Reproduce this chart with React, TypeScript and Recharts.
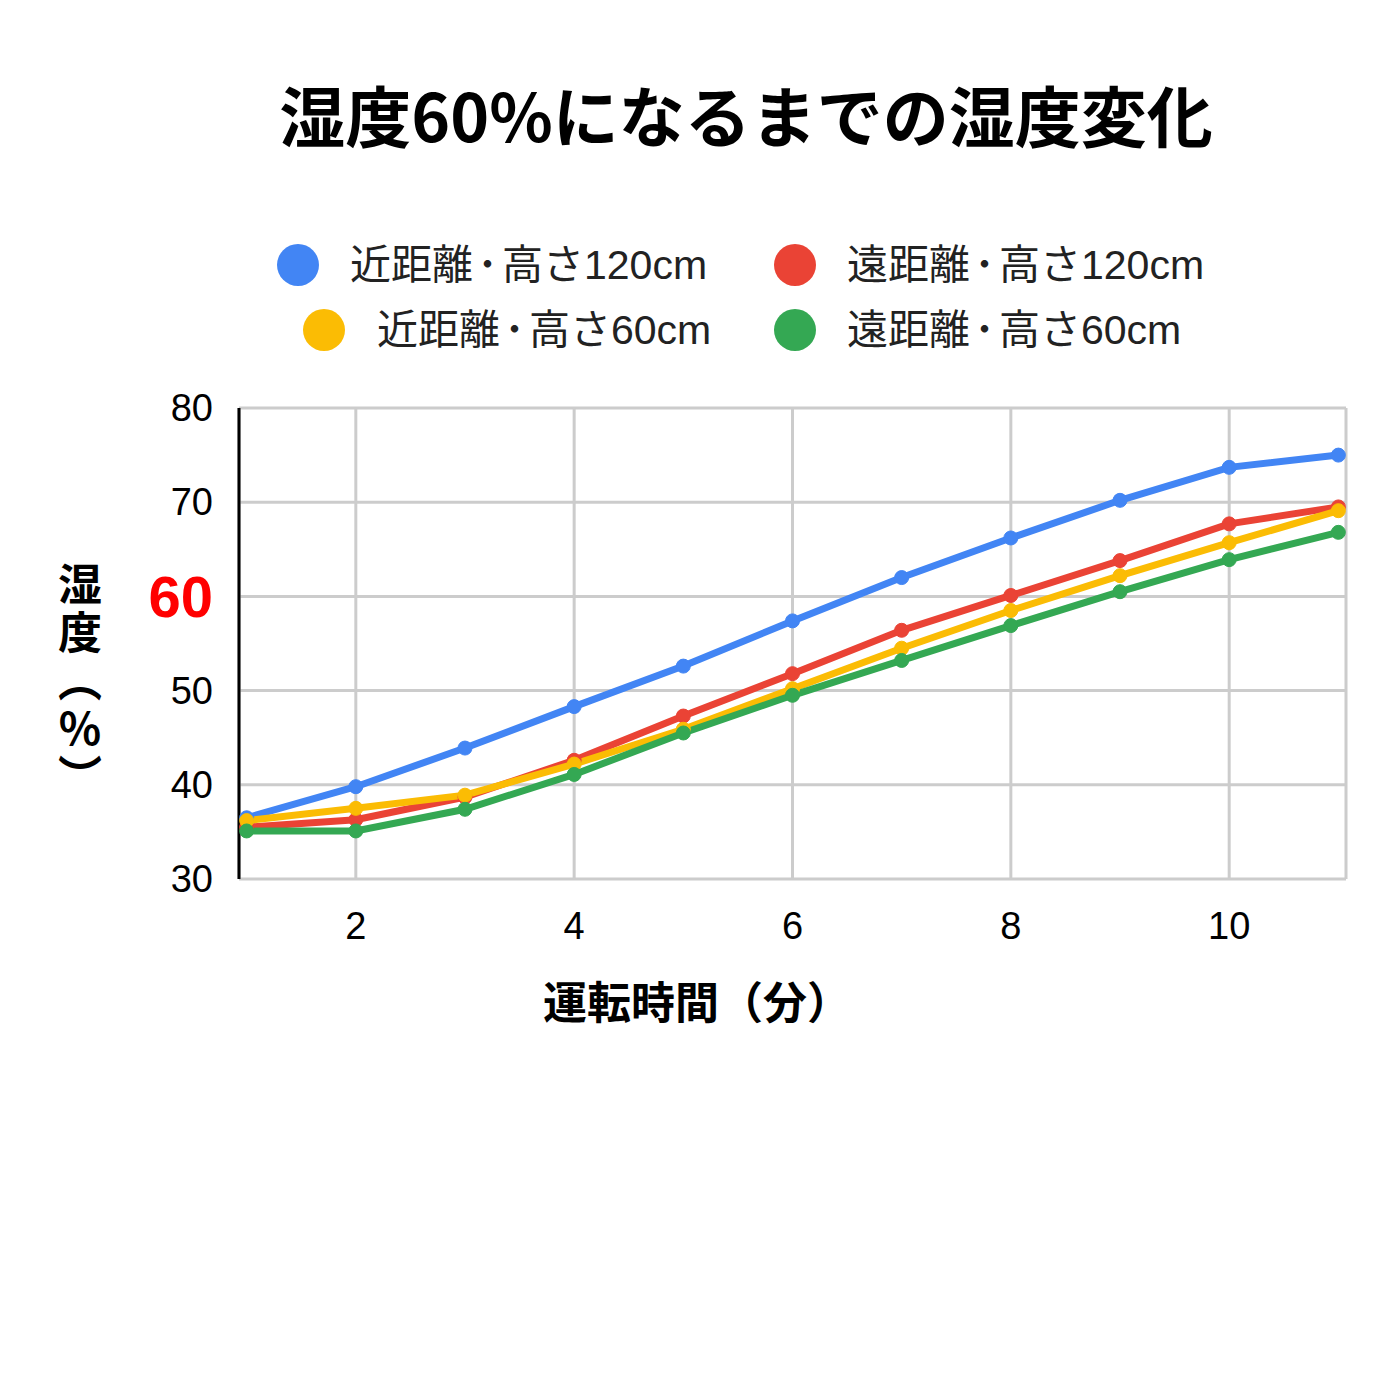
import React from "react";
import { LineChart, Line, XAxis, YAxis, CartesianGrid } from "recharts";

const minutes = [1, 2, 3, 4, 5, 6, 7, 8, 9, 10, 11];
const nearHigh = [36.5, 39.8, 43.9, 48.3, 52.6, 57.4, 62.0, 66.2, 70.2, 73.7, 75.0];
const farHigh = [35.5, 36.3, 38.7, 42.6, 47.3, 51.8, 56.4, 60.1, 63.8, 67.7, 69.5];
const nearLow = [36.2, 37.5, 38.9, 42.2, 45.9, 50.2, 54.5, 58.5, 62.2, 65.7, 69.1];
const farLow = [35.1, 35.1, 37.4, 41.1, 45.5, 49.5, 53.2, 56.9, 60.5, 63.9, 66.8];

const xTicks = [2, 4, 6, 8, 10];
const yTicks = [30, 40, 50, 60, 70, 80];

const seriesList = [
  { key: "nearHigh", name: "近距離・高さ120cm", color: "#4285F4", values: nearHigh },
  { key: "farHigh", name: "遠距離・高さ120cm", color: "#EA4335", values: farHigh },
  { key: "nearLow", name: "近距離・高さ60cm", color: "#FBBC04", values: nearLow },
  { key: "farLow", name: "遠距離・高さ60cm", color: "#34A853", values: farLow },
];

const data = minutes.map((m, i) => {
  const row: Record<string, number> = { minute: m };
  seriesList.forEach((s) => {
    row[s.key] = s.values[i];
  });
  return row;
});

const latin = "'Liberation Sans', Arial, 'Noto Sans CJK JP', sans-serif";
const cjk = "'Noto Sans CJK JP', sans-serif";

const YTick = (props: any) => {
  const { x, y, payload } = props;
  const hot = payload.value === 60;
  return (
    <text
      x={x}
      y={y}
      textAnchor="end"
      dominantBaseline="central"
      fontFamily={latin}
      fontSize={hot ? 58 : 38}
      fontWeight={hot ? "bold" : "normal"}
      fill={hot ? "#ff0000" : "#000"}
    >
      {payload.value}
    </text>
  );
};

const XTick = (props: any) => {
  const { x, y, payload } = props;
  return (
    <text x={x} y={y} dy="0.71em" textAnchor="middle" fontFamily={latin} fontSize={38} fill="#000">
      {payload.value}
    </text>
  );
};

// the middle dot is set tight, as in the original legend
const LegendName = ({ name }: { name: string }) => {
  const parts = name.split("・");
  return (
    <>
      {parts[0]}
      <span style={{ fontSize: 29, fontWeight: 700, position: "relative", top: -4 }}>・</span>
      {parts[1]}
    </>
  );
};

// legend positions: [circle x, text x, row y]
const legendSpots = [
  [298, 350, 265],
  [795, 847, 265],
  [324, 377, 330],
  [795, 847, 330],
];

const App: React.FC = () => {
  return (
    <div style={{ position: "absolute", left: 0, top: 0, width: 1400, height: 1400, background: "#fff" }}>
      <div
        style={{
          position: "absolute",
          top: 73,
          left: 0,
          width: 1492,
          textAlign: "center",
          fontFamily: cjk,
          fontWeight: 700,
          fontSize: 66,
          lineHeight: "80px",
          color: "#000",
        }}
      >
        湿度60%になるまでの湿度変化
      </div>

      {seriesList.map((s, i) => {
        const [cx, tx, cy] = legendSpots[i];
        return (
          <React.Fragment key={s.key}>
            <div
              style={{
                position: "absolute",
                left: cx - 21,
                top: cy - 21,
                width: 42,
                height: 42,
                borderRadius: "50%",
                background: s.color,
              }}
            />
            <div
              style={{
                position: "absolute",
                left: tx,
                top: cy - 26,
                height: 52,
                lineHeight: "52px",
                fontFamily: latin,
                fontSize: 41,
                color: "#222",
                whiteSpace: "nowrap",
              }}
            >
              <LegendName name={s.name} />
            </div>
          </React.Fragment>
        );
      })}

      <div style={{ position: "absolute", left: 0, top: 0 }}>
        <LineChart width={1400} height={1100} data={data} margin={{ top: 408, right: 54, left: 0, bottom: 161 }}>
          <CartesianGrid stroke="#cccccc" strokeWidth={3} />
          <XAxis
            dataKey="minute"
            type="number"
            domain={[0.93, 11.07]}
            ticks={xTicks}
            axisLine={false}
            tickLine={false}
            tickSize={0}
            tickMargin={33}
            height={60}
            tick={<XTick />}
            interval={0}
            allowDataOverflow
          />
          <YAxis
            type="number"
            domain={[30, 80]}
            ticks={yTicks}
            width={239}
            axisLine={{ stroke: "#000", strokeWidth: 3 }}
            tickLine={false}
            tickSize={0}
            tickMargin={26}
            tick={<YTick />}
            interval={0}
          />
          {seriesList.map((s) => (
            <Line
              key={s.key}
              type="linear"
              dataKey={s.key}
              name={s.name}
              stroke={s.color}
              strokeWidth={7}
              dot={{ r: 7, fill: s.color, stroke: s.color, strokeWidth: 1 }}
              activeDot={false}
              isAnimationActive={false}
            />
          ))}
        </LineChart>
      </div>

      <div
        style={{
          position: "absolute",
          top: 972,
          left: 543,
          fontFamily: cjk,
          fontWeight: 700,
          fontSize: 44,
          lineHeight: "56px",
          color: "#000",
          whiteSpace: "nowrap",
        }}
      >
        運転時間（分）
      </div>

      <div
        style={{
          position: "absolute",
          top: 562,
          left: 56,
          writingMode: "vertical-rl",
          textOrientation: "upright",
          fontFamily: cjk,
          fontWeight: 700,
          fontSize: 44,
          lineHeight: "48px",
          letterSpacing: 4,
          color: "#000",
        }}
      >
        湿度（%）
      </div>
    </div>
  );
};

export default App;
